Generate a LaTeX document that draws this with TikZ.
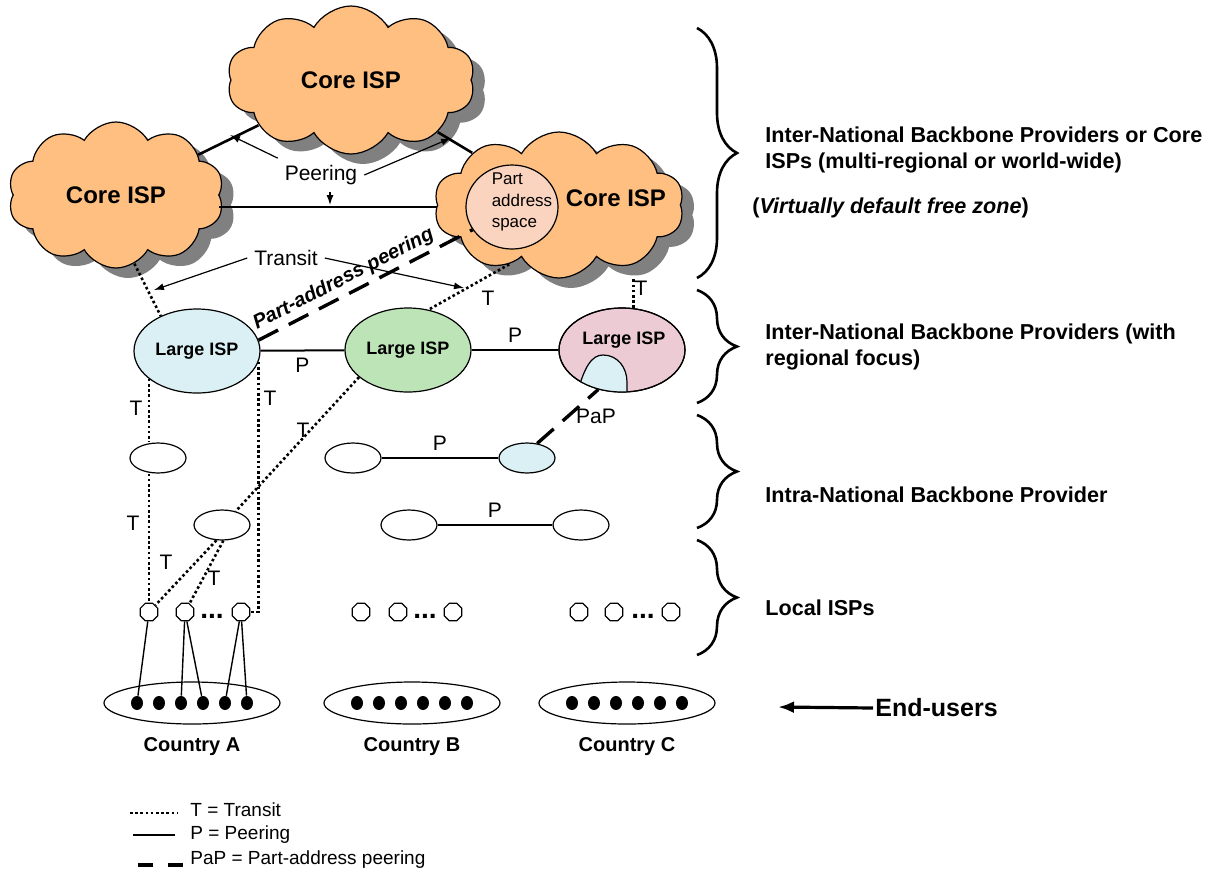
\documentclass[tikz,border=0pt]{standalone}
\usepackage{fontspec}
\setmainfont{Liberation Sans}
\usetikzlibrary{shapes.geometric, shapes.symbols, shadows, decorations.pathreplacing, arrows.meta}

\definecolor{corefill}{RGB}{255,191,128}
\definecolor{partfill}{RGB}{250,212,190}
\definecolor{ispblue}{RGB}{218,240,244}
\definecolor{ispgreen}{RGB}{188,228,182}
\definecolor{isppink}{RGB}{236,203,213}

\tikzset{
  >={Latex[length=5pt,width=3.5pt]},
  coreisp/.style={cloud, cloud puffs=10, cloud puff arc=120, cloud ignores aspect, draw, line width=0.6pt,
    fill=corefill, inner sep=0pt,
    drop shadow={shadow xshift=6pt, shadow yshift=-5pt, fill=black!50, opacity=1, draw=none},
    font=\fontsize{12}{14}\selectfont\bfseries},
  coretext/.style={font=\fontsize{12}{14}\selectfont\bfseries},
  partspace/.style={ellipse, draw, line width=0.6pt, fill=partfill, minimum width=46pt, minimum height=42pt, inner sep=0pt},
  largeisp/.style={ellipse, draw, line width=0.6pt, minimum width=63pt, minimum height=42pt, inner sep=0pt,
    font=\fontsize{9}{11}\selectfont\bfseries},
  intraisp/.style={ellipse, draw, line width=0.6pt, minimum width=28pt, minimum height=15pt, inner sep=0pt},
  localisp/.style={regular polygon, regular polygon sides=8, draw, line width=0.6pt, minimum size=9.5pt, inner sep=0pt},
  country/.style={ellipse, draw, line width=0.6pt, minimum width=88pt, minimum height=21pt, inner sep=0pt},
  enduser/.style={ellipse, fill=black, minimum width=6pt, minimum height=7pt, inner sep=0pt},
  lbl/.style={font=\fontsize{10.5}{12}\selectfont},
  tier/.style={anchor=west, align=left, inner sep=0pt, font=\fontsize{10.8}{13}\selectfont\bfseries},
  legend/.style={anchor=west, inner sep=0pt, font=\fontsize{9.5}{11}\selectfont},
  transit/.style={line width=1.3pt, dash pattern=on 1.3pt off 1.3pt},
  peering/.style={line width=1pt},
  corepeer/.style={line width=1.3pt},
  pap/.style={line width=1.7pt, dash pattern=on 11pt off 6pt},
  access/.style={line width=0.7pt},
  callout/.style={->, line width=0.6pt},
  tierbrace/.style={decorate, decoration={brace, amplitude=20pt}, line width=1.3pt},
}

\begin{document}
\begin{tikzpicture}[x=0.5pt, y=-0.5pt]
\useasboundingbox (0,0) rectangle (1223,875);

% core ISPs
\node[coreisp, minimum width=124pt, minimum height=74pt] (coreTop) at (351,80) {Core ISP};
\node[coreisp, minimum width=108pt, minimum height=73pt] (coreLeft) at (116,195) {Core ISP};
\node[coreisp, minimum width=125pt, minimum height=73pt] (coreRight) at (559,205) {};
\node[coretext] (coreRightTxt) at (616,198) {Core ISP};
\node[partspace] (partAddr) at (512,207) {};
\node[align=left, inner sep=0pt, font=\fontsize{8.5}{10.8}\selectfont] (partTxt) at (522,202) {Part\\address\\space};

\draw[corepeer] (coreLeft) -- (coreTop);
\draw[corepeer] (coreTop) -- (coreRight);
\draw[corepeer] ([yshift=-6pt]coreLeft.east) -- ([yshift=-6pt]coreLeft.east -| coreRight.west);

\node[lbl] (peerLbl) at (321,175) {Peering};
\coordinate (peerTL) at (230,135);
\coordinate (peerTR) at (451,138);
\coordinate (peerDn) at (330,205);
\draw[callout] (peerLbl.north west) -- (peerTL);
\draw[callout] (peerLbl.east) -- (peerTR);
\draw[callout] (peerLbl.south -| peerDn) -- (peerDn);

% large ISPs
\node[largeisp, fill=ispblue] (ispA) at (197,351) {Large ISP};
\node[largeisp, fill=ispgreen] (ispB) at (408,350) {Large ISP};
\node[largeisp, fill=isppink] (ispC) at (622,350) {};
\begin{scope}
  \clip (ispC.center) ellipse [x radius=31.5pt, y radius=21pt];
  \draw[line width=0.6pt, fill=ispblue] (576,398) .. controls (584,366) and (592,355) .. (603,355)
    .. controls (618,355) and (627,368) .. (627,382) -- (627,400) -- cycle;
\end{scope}
\draw[line width=0.6pt] (ispC.center) ellipse [x radius=31.5pt, y radius=21pt];
\node[font=\fontsize{9}{11}\selectfont\bfseries] (ispCtxt) at (624,340) {Large ISP};

% intra-national
\node[intraisp] (smallA1) at (158,458) {};
\node[intraisp] (smallA2) at (222,525) {};
\node[intraisp] (smallB1) at (353,458) {};
\node[intraisp, fill=ispblue] (smallB2) at (527,458) {};
\node[intraisp] (smallB3) at (409,525) {};
\node[intraisp] (smallB4) at (581,525) {};

% local ISPs and end-users
\foreach \c/\a/\b/\d/\e in {A/149/185/212/241, B/361/398/425/453, C/579/614/643/671} {
  \node[localisp] (loc\c1) at (\a,612) {};
  \node[localisp] (loc\c2) at (\b,612) {};
  \node[localisp] (loc\c3) at (\e,612) {};
  \node[font=\fontsize{14}{16}\selectfont\bfseries] (more\c) at (\d,616) {...};
}
\foreach \c/\x in {A/192, B/412, C/627} {
  \node[country] (country\c) at (\x,703) {};
  \foreach \i in {1,...,6}
    \node[enduser] (dot\c\i) at ({\x+22*(\i-3.5)},703) {};
  \node[font=\fontsize{10}{12}\selectfont\bfseries] (label\c) at (\x,747) {Country \c};
}
\draw[access] (locA1) -- (dotA1);
\draw[access] (locA2) -- (dotA3);
\draw[access] (locA2) -- (dotA4);
\draw[access] (locA3) -- (dotA5);
\draw[access] (locA3) -- (dotA6);

% transit
\draw[transit] (coreLeft.-75) -- (ispA.136);
\draw[transit] (coreRight.-130) -- (ispB.63);
\draw[transit] (ispC.75) -- (ispC.75 |- coreRight.south);
\draw[transit] (ispA.210) -- (ispA.210 |- smallA1.north);
\draw[transit] (ispA.210 |- smallA1.south) -- (ispA.210 |- locA1.north);
\draw[transit] (ispA.-10) |- (locA3.east);
\draw[transit] (ispB.209) -- (smallA2.45);
\draw[transit] (smallA2.250) -- (locA1);
\draw[transit] (smallA2.275) -- (locA2);
\node[lbl] (tCoreB) at (488,298) {T};
\node[lbl] (tCoreC) at (641,288) {T};
\node[lbl] (tIspA1) at (136,408) {T};
\node[lbl] (tIspA2) at (270,398) {T};
\node[lbl] (tIspB) at (303,430) {T};
\node[lbl] (tSmallA1) at (133,523) {T};
\node[lbl] (tSmallA2) at (166,562) {T};
\node[lbl] (tSmallA3) at (214,578) {T};

\node[lbl] (transitLbl) at (286,258) {Transit};
\coordinate (transitL) at (154,290);
\coordinate (transitR) at (464,288);
\draw[callout] (transitLbl.west) -- (transitL);
\draw[callout] (transitLbl.east) -- (transitR);

% peering
\draw[peering] (ispA) -- node[lbl, below] {P} (ispB);
\draw[peering] (ispB) -- node[lbl, above] {P} (ispC);
\draw[peering] (smallB1) -- node[lbl, above] {P} (smallB2);
\draw[peering] (smallB3) -- node[lbl, above] {P} (smallB4);

% part-address peering
\draw[pap] (ispA.10) -- node[sloped, above, pos=0.43, inner sep=2pt, font=\fontsize{10}{12}\selectfont\bfseries\itshape] (papLbl) {Part-address peering} (partAddr.210);
\draw[pap] (smallB2.55) -- node[lbl, right] (papShort) {PaP} (ispC.239);

% tiers
\draw[tierbrace] (697,28) -- (697,278);
\draw[tierbrace] (697,290) -- (697,403);
\draw[tierbrace] (697,415) -- (697,528);
\draw[tierbrace] (697,540) -- (697,655);
\node[tier] (tierCore) at (765,150) {Inter-National Backbone Providers or Core\\ISPs (multi-regional or world-wide)};
\node[tier] (tierDfz) at (752,208) {(\textit{Virtually default free zone})};
\node[tier] (tierRegional) at (765,347) {Inter-National Backbone Providers (with\\regional focus)};
\node[tier] (tierIntra) at (765,495) {Intra-National Backbone Provider};
\node[tier] (tierLocal) at (765,608) {Local ISPs};

\node[anchor=west, inner sep=1pt, font=\fontsize{12.5}{15}\selectfont\bfseries] (endUsers) at (873,708) {End-users};
\coordinate (endTip) at (778,707);
\draw[-{Latex[length=8pt,width=6pt]}, line width=1.6pt] (endUsers.west) -- (endTip);

% legend
\node[legend] (legT) at (190,810) {T = Transit};
\node[legend] (legP) at (190,835) {P = Peering};
\node[legend] (legPaP) at (190,860) {PaP = Part-address peering};
\draw[transit] ([xshift=-30pt, yshift=-1.5pt]legT.west) -- ([xshift=-6.5pt, yshift=-1.5pt]legT.west);
\draw[peering] ([xshift=-28.5pt]legP.west) -- ([xshift=-7.5pt]legP.west);
\draw[pap, dash pattern=on 7.5pt off 7.5pt] ([xshift=-26pt, yshift=-2.5pt]legPaP.west) -- ([xshift=-3.5pt, yshift=-2.5pt]legPaP.west);
\end{tikzpicture}
\end{document}
